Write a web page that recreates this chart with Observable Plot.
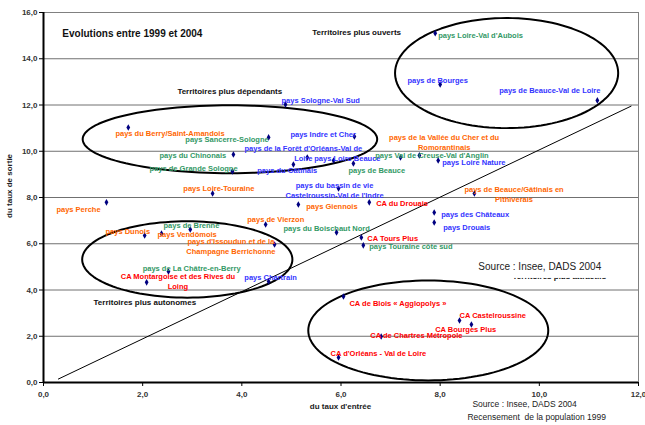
<!DOCTYPE html>
<html>
<head>
<meta charset="utf-8">
<script src="https://cdn.jsdelivr.net/npm/d3@7"></script>
<script src="https://cdn.jsdelivr.net/npm/@observablehq/plot@0.6"></script>
<style>
  html, body { margin: 0; padding: 0; background: #fff; }
  #chart svg { display: block; }
</style>
</head>
<body>
<div id="chart"></div>
<script>
// ---- Data ----
const names = [
  "pays Loire-Val d'Aubois", "pays de Bourges", "pays de Beauce-Val de Loire", "pays Sologne-Val Sud",
  "pays du Berry/Saint-Amandois", "pays Sancerre-Sologne", "pays Indre et Cher", "pays du Chinonais",
  "pays de la Forêt d'Orléans-Val de\nLoire", "pays Loire Beauce", "pays du Gâtinais", "pays de Grande Sologne",
  "pays de Beauce", "pays Val de Creuse-Val d'Anglin", "pays de la Vallée du Cher et du\nRomorantinais", "pays Loire Nature",
  "pays Loire-Touraine", "pays Perche", "pays du bassin de vie\nCastelroussin-Val de l'Indre", "pays Giennois",
  "CA du Drouais", "pays de Beauce/Gâtinais en\nPithiverais", "pays des Châteaux", "pays Drouais",
  "pays de Vierzon", "pays du Boischaut Nord", "CA Tours Plus", "pays Touraine côte sud",
  "pays de Brenne", "pays Dunois", "pays Vendômois", "pays d'Issoudun et de la\nChampagne Berrichonne",
  "pays de La Châtre-en-Berry", "CA Montargoise et des Rives du\nLoing", "pays Chartrain", "CA de Blois « Agglopolys »",
  "CA Castelroussine", "CA Bourges Plus", "CA de Chartres Métropole", "CA d'Orléans - Val de Loire"
];
// taux d'entrée
const tauxEntree = [
  7.90, 8.00, 11.17, 4.88,
  1.71, 4.54, 6.27, 3.83,
  5.32, 5.85, 5.04, 3.81,
  6.25, 7.20, 7.58, 7.96,
  3.41, 1.27, 5.95, 5.14,
  6.57, 8.69, 7.88, 7.88,
  4.48, 5.91, 6.41, 6.45,
  2.96, 2.04, 2.38, 4.66,
  2.52, 2.08, 4.54, 6.05,
  8.39, 8.63, 6.81, 5.95
];
// taux de sortie
const tauxSortie = [
  15.10, 12.89, 12.20, 12.02,
  11.03, 10.60, 10.64, 9.86,
  9.73, 9.60, 9.43, 9.13,
  9.47, 9.73, 9.82, 9.60,
  8.17, 7.79, 8.39, 7.70,
  7.79, 8.17, 7.35, 6.92,
  6.83, 6.49, 6.27, 5.93,
  6.62, 6.36, 6.44, 5.97,
  4.80, 4.33, 4.37, 3.72,
  2.68, 2.51, 1.99, 1.08
];
const groups = [
  "vert", "bleu", "bleu", "bleu",
  "orange", "vert", "bleu", "vert",
  "bleu", "bleu", "bleu", "vert",
  "vert", "vert", "orange", "bleu",
  "orange", "orange", "bleu", "orange",
  "rouge", "orange", "bleu", "bleu",
  "orange", "vert", "rouge", "vert",
  "vert", "orange", "orange", "orange",
  "vert", "rouge", "bleu", "rouge",
  "rouge", "rouge", "rouge", "rouge"
];
// label anchor positions (data units)
const labelX = [
  7.96, 7.34, 9.19, 4.80,
  1.45, 2.86, 4.98, 2.34,
  5.24, 5.46, 4.31, 2.14,
  6.15, 6.69, 8.08, 8.04,
  2.82, 0.26, 5.87, 5.30,
  6.71, 9.49, 8.02, 8.06,
  4.11, 4.84, 6.53, 6.57,
  2.42, 1.25, 2.30, 3.78,
  2.00, 2.71, 4.05, 6.17,
  8.39, 7.90, 6.59, 5.79
];
const labelY = [
  15.05, 13.10, 12.67, 12.24,
  10.81, 10.55, 10.77, 9.86,
  9.93, 9.73, 9.21, 9.30,
  9.21, 9.86, 10.40, 9.56,
  8.43, 7.53, 8.35, 7.66,
  7.79, 8.17, 7.31, 6.75,
  7.09, 6.70, 6.27, 5.93,
  6.83, 6.57, 6.44, 5.93,
  4.97, 4.41, 4.58, 3.46,
  2.94, 2.34, 2.08, 1.30
];
const labelCentered = [
  false, false, false, false,
  false, false, false, false,
  true, false, false, false,
  false, false, true, false,
  false, false, true, false,
  false, true, false, false,
  false, false, false, false,
  false, false, false, true,
  false, true, false, false,
  false, false, false, false
];
const groupColors = { orange: "#ff6600", vert: "#339966", bleu: "#3333ff", rouge: "#ff0000" };

const yTicks = [0, 2, 4, 6, 8, 10, 12, 14, 16];
const xTicks = [0, 2, 4, 6, 8, 10, 12];

// diagonal reference line
const diagX = [0.3, 11.85];
const diagY = [0.15, 11.95];

// ellipses grouping territories (centre and radii in data units)
const ellCx = [9.34, 3.76, 2.90, 7.76];
const ellCy = [13.38, 10.52, 5.32, 2.25];
const ellRx = [2.25, 2.97, 2.12, 2.42];
const ellRy = [2.38, 1.47, 1.65, 2.16];

// annotations
const annotText = ["Territoires plus ouverts", "Territoires plus dépendants", "Territoires plus autonomes", "Territoires plus attractifs"];
const annotX = [5.42, 2.70, 1.01, 9.46];
const annotY = [15.14, 12.59, 3.46, 4.58];

// ---- Build tables ----
const points = names.map((n, i) => ({
  name: n, x: tauxEntree[i], y: tauxSortie[i], color: groupColors[groups[i]],
  lx: labelX[i], ly: labelY[i], centered: labelCentered[i]
}));
const diag = diagX.map((x, i) => ({ x, y: diagY[i] }));
const ellipses = [];
ellCx.forEach((cx, k) => {
  for (let j = 0; j <= 120; j++) {
    const t = (j / 120) * 2 * Math.PI;
    ellipses.push({ id: k, x: cx + ellRx[k] * Math.cos(t), y: ellCy[k] + ellRy[k] * Math.sin(t) });
  }
});
const annots = annotText.map((t, i) => ({ t, x: annotX[i], y: annotY[i] }));
const fmt = d => d.toFixed(1).replace(".", ",");

const chart = Plot.plot({
  width: 645,
  height: 425,
  marginTop: 12,
  marginRight: 7,
  marginBottom: 43,
  marginLeft: 43,
  style: { fontFamily: "'Liberation Sans', Arial, sans-serif", background: "#fff" },
  x: { domain: [0, 12] },
  y: { domain: [0, 16] },
  marks: [
    Plot.gridY(yTicks, { stroke: "#707070", strokeOpacity: 1, strokeWidth: 1 }),
    Plot.frame({ stroke: "#808080" }),
    Plot.ruleX([0], { stroke: "#000", strokeWidth: 2 }),
    Plot.ruleY([0], { stroke: "#000", strokeWidth: 2 }),
    Plot.axisY({ ticks: yTicks, tickFormat: fmt, tickSize: 4, tickPadding: 2, fontSize: 8, fontWeight: "bold", fill: "#333", label: null }),
    Plot.axisX({ ticks: xTicks, tickFormat: fmt, tickSize: 4, tickPadding: 5, fontSize: 8, fontWeight: "bold", fill: "#333", label: null }),
    Plot.line(diag, { x: "x", y: "y", stroke: "#000", strokeWidth: 1 }),
    Plot.line(ellipses, { x: "x", y: "y", z: "id", stroke: "#000", strokeWidth: 2, fill: "none" }),
    Plot.dot(points, { x: "x", y: "y", symbol: "diamond", r: 2, fill: "#000080", stroke: "none" }),
    Plot.text(points.filter(d => !d.centered), { x: "lx", y: "ly", text: "name", fill: "color", textAnchor: "start", fontSize: 7.5, fontWeight: "bold", lineHeight: 1.35 }),
    Plot.text(points.filter(d => d.centered), { x: "lx", y: "ly", text: "name", fill: "color", textAnchor: "middle", fontSize: 7.5, fontWeight: "bold", lineHeight: 1.35 }),
    Plot.text(annots, { x: "x", y: "y", text: "t", textAnchor: "start", fontSize: 8, fontWeight: "bold", fill: "#111" }),
    // white box of the inner source note
    Plot.rect([{ x1: 8.73, x2: 11.47, y1: 4.50, y2: 5.49 }], { x1: "x1", x2: "x2", y1: "y1", y2: "y2", fill: "#fff" }),
    Plot.text(["Source : Insee, DADS 2004"], { x: 8.77, y: 5.02, textAnchor: "start", fontSize: 10, fill: "#222" }),
    Plot.text(["Evolutions entre 1999 et 2004"], { x: 0.38, y: 15.06, textAnchor: "start", fontSize: 10, fontWeight: "bold", fill: "#111" }),
    // axis titles and sources
    Plot.text(["du taux de sortie"], { x: 0, y: 8.5, rotate: -90, dx: -34, fontSize: 8, fontWeight: "bold", fill: "#222" }),
    Plot.text(["du taux d'entrée"], { x: 5.99, y: 0, dy: 24, fontSize: 8, fontWeight: "bold", fill: "#222" }),
    Plot.text(["Source : Insee, DADS 2004"], { x: 8.65, y: 0, dy: 22, textAnchor: "start", fontSize: 8.5, fill: "#222" }),
    Plot.text(["Recensement  de la population 1999"], { x: 8.55, y: 0, dy: 35, textAnchor: "start", fontSize: 8.5, fill: "#222" })
  ]
});
document.getElementById("chart").appendChild(chart);
</script>
</body>
</html>
